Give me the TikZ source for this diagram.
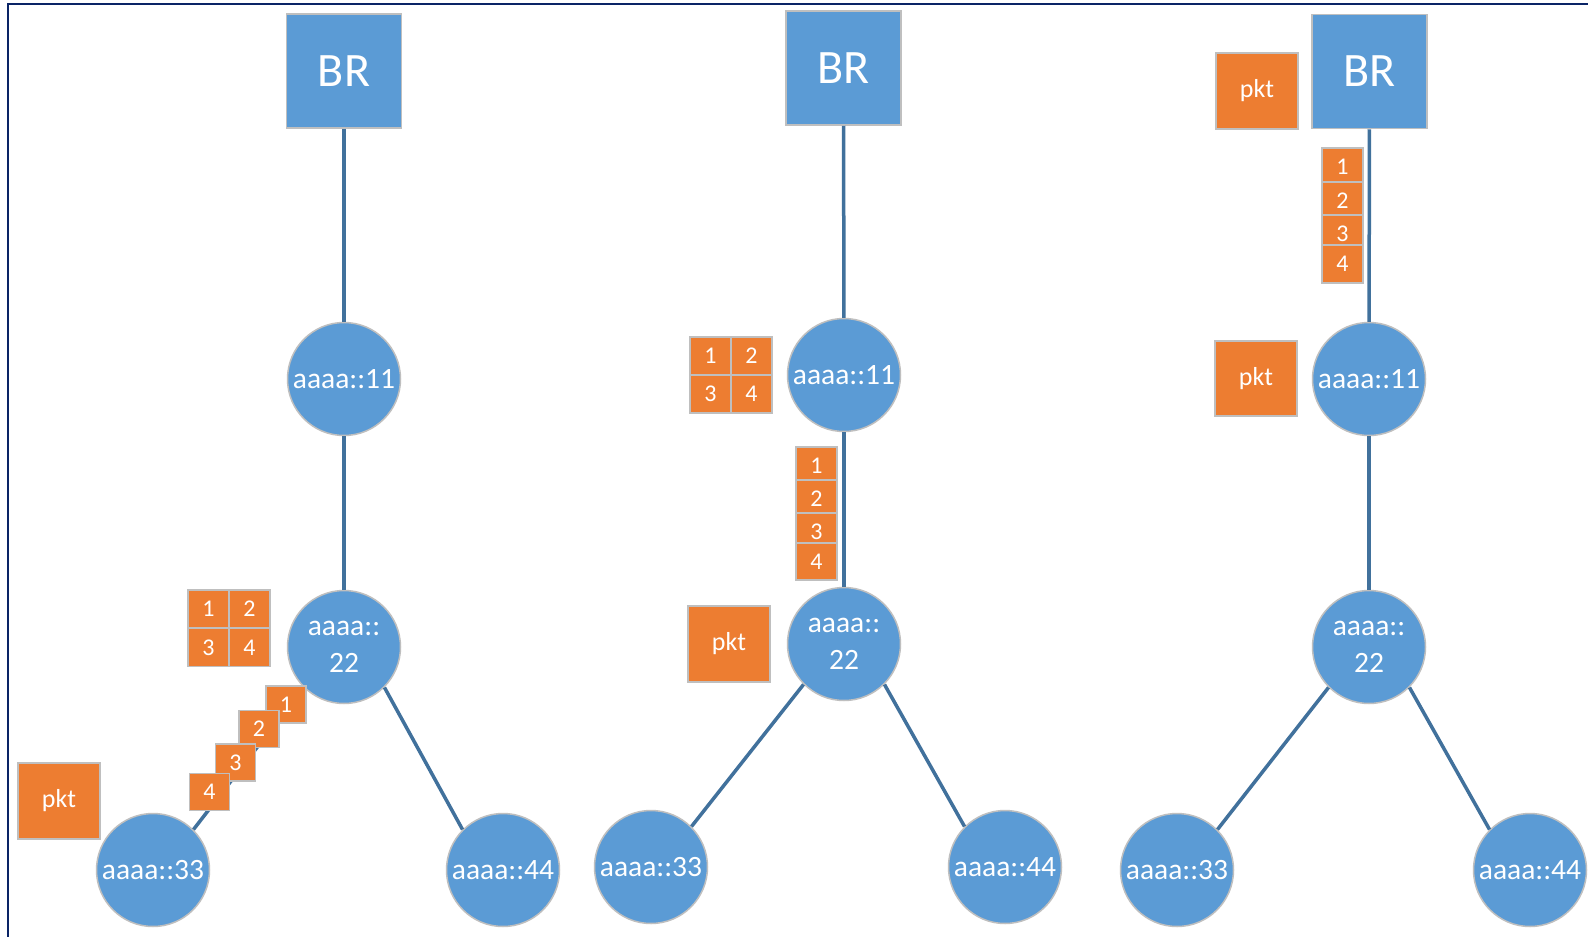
\documentclass[tikz,border=0pt]{standalone}
\usepackage{fontspec}
\setmainfont{Carlito}
\definecolor{nodeblue}{HTML}{5B9BD5}
\definecolor{linkblue}{HTML}{41719C}
\definecolor{fragorange}{HTML}{ED7D31}
\definecolor{rimgray}{HTML}{BFBFBF}
\definecolor{framenavy}{HTML}{0A2466}
\begin{document}
\begin{tikzpicture}[x=1pt,y=-1pt,
  netnode/.style={circle,fill=nodeblue,draw=rimgray,line width=1.5pt,minimum size=113pt,inner sep=0pt,text=white,align=center,font=\fontsize{29.5}{37}\selectfont},
  brbox/.style={rectangle,fill=nodeblue,draw=rimgray,line width=1.5pt,minimum width=115pt,minimum height=114pt,inner sep=0pt,text=white,font=\fontsize{48}{56}\selectfont},
  fragbox/.style={rectangle,fill=fragorange,draw=rimgray,line width=1.2pt,minimum width=41pt,minimum height=38pt,inner sep=0pt,text=white,font=\fontsize{24}{28}\selectfont},
  pktbox/.style={rectangle,fill=fragorange,draw=rimgray,line width=1.5pt,minimum width=82pt,minimum height=76pt,inner sep=0pt,text=white,font=\fontsize{26}{30}\selectfont},
  link/.style={draw=linkblue,line width=3.5pt}]
\useasboundingbox (0,0) rectangle (1588,937);
\fill[white] (0,0) rectangle (1588,937);
\coordinate (fa) at (8,937);
\coordinate (fb) at (8,4);
\coordinate (fc) at (1588,4);
\draw[framenavy,line width=2.5pt] (fa) -- (fb) -- (fc);

% ---------- panel 1 ----------
\node[brbox] (br1) at (344,71) {BR};
\node[netnode] (a11) at (344,379) {aaaa::11};
\node[netnode] (a22) at (344,647) {aaaa::\\22};
\node[netnode] (a33) at (153,870) {aaaa::33};
\node[netnode] (a44) at (503,870) {aaaa::44};
\draw[link] (br1) -- (a11);
\draw[link] (a11) -- (a22);
\draw[link] (a22.south west) -- (a33.north east);
\draw[link] (a22.south east) -- (a44.north west);
\node[fragbox] (pa1) at (208.5,609) {1};
\node[fragbox] (pa2) at (249.5,609) {2};
\node[fragbox] (pa3) at (208.5,647.5) {3};
\node[fragbox] (pa4) at (249.5,647.5) {4};
\node[fragbox,minimum width=40pt,minimum height=37pt] (pd1) at (286,704.5) {1};
\node[fragbox,minimum width=40pt,minimum height=37pt] (pd2) at (259,729) {2};
\node[fragbox,minimum width=40pt,minimum height=37pt] (pd3) at (235.5,762.5) {3};
\node[fragbox,minimum width=40pt,minimum height=37pt] (pd4) at (209.5,792) {4};
\node[pktbox] (pkt1) at (59,801) {pkt};

% ---------- panel 2 ----------
\node[brbox] (br2) at (843.5,68) {BR};
\node[netnode] (b11) at (844,375) {aaaa::11};
\node[netnode] (b22) at (844,644) {aaaa::\\22};
\node[netnode] (b33) at (651,867) {aaaa::33};
\node[netnode] (b44) at (1005,867) {aaaa::44};
\draw[link] (br2) -- (b11);
\draw[link] (b11) -- (b22);
\draw[link] (b22.south west) -- (b33.north east);
\draw[link] (b22.south east) -- (b44.north west);
\node[fragbox] (qa1) at (710.5,356) {1};
\node[fragbox] (qa2) at (751.5,356) {2};
\node[fragbox] (qa3) at (710.5,394) {3};
\node[fragbox] (qa4) at (751.5,394) {4};
\node[fragbox,minimum height=37pt] (qs1) at (816.5,465.5) {1};
\node[fragbox,minimum height=37pt] (qs2) at (816.5,498.5) {2};
\node[fragbox,minimum height=37pt] (qs3) at (816.5,531.5) {3};
\node[fragbox,minimum height=37pt] (qs4) at (816.5,561.5) {4};
\node[pktbox] (pkt2) at (729,644) {pkt};

% ---------- panel 3 ----------
\node[brbox] (br3) at (1369.5,71.5) {BR};
\node[netnode] (c11) at (1369,379) {aaaa::11};
\node[netnode] (c22) at (1369,647) {aaaa::\\22};
\node[netnode] (c33) at (1177,870) {aaaa::33};
\node[netnode] (c44) at (1530,870) {aaaa::44};
\draw[link] (br3) -- (c11);
\draw[link] (c11) -- (c22);
\draw[link] (c22.south west) -- (c33.north east);
\draw[link] (c22.south east) -- (c44.north west);
\node[fragbox] (rs1) at (1342.5,167) {1};
\node[fragbox] (rs2) at (1342.5,201) {2};
\node[fragbox] (rs3) at (1342.5,234) {3};
\node[fragbox] (rs4) at (1342.5,264) {4};
\node[pktbox] (pkt3) at (1257,91) {pkt};
\node[pktbox,minimum height=75pt] (pkt4) at (1256,378.5) {pkt};
\end{tikzpicture}
\end{document}
